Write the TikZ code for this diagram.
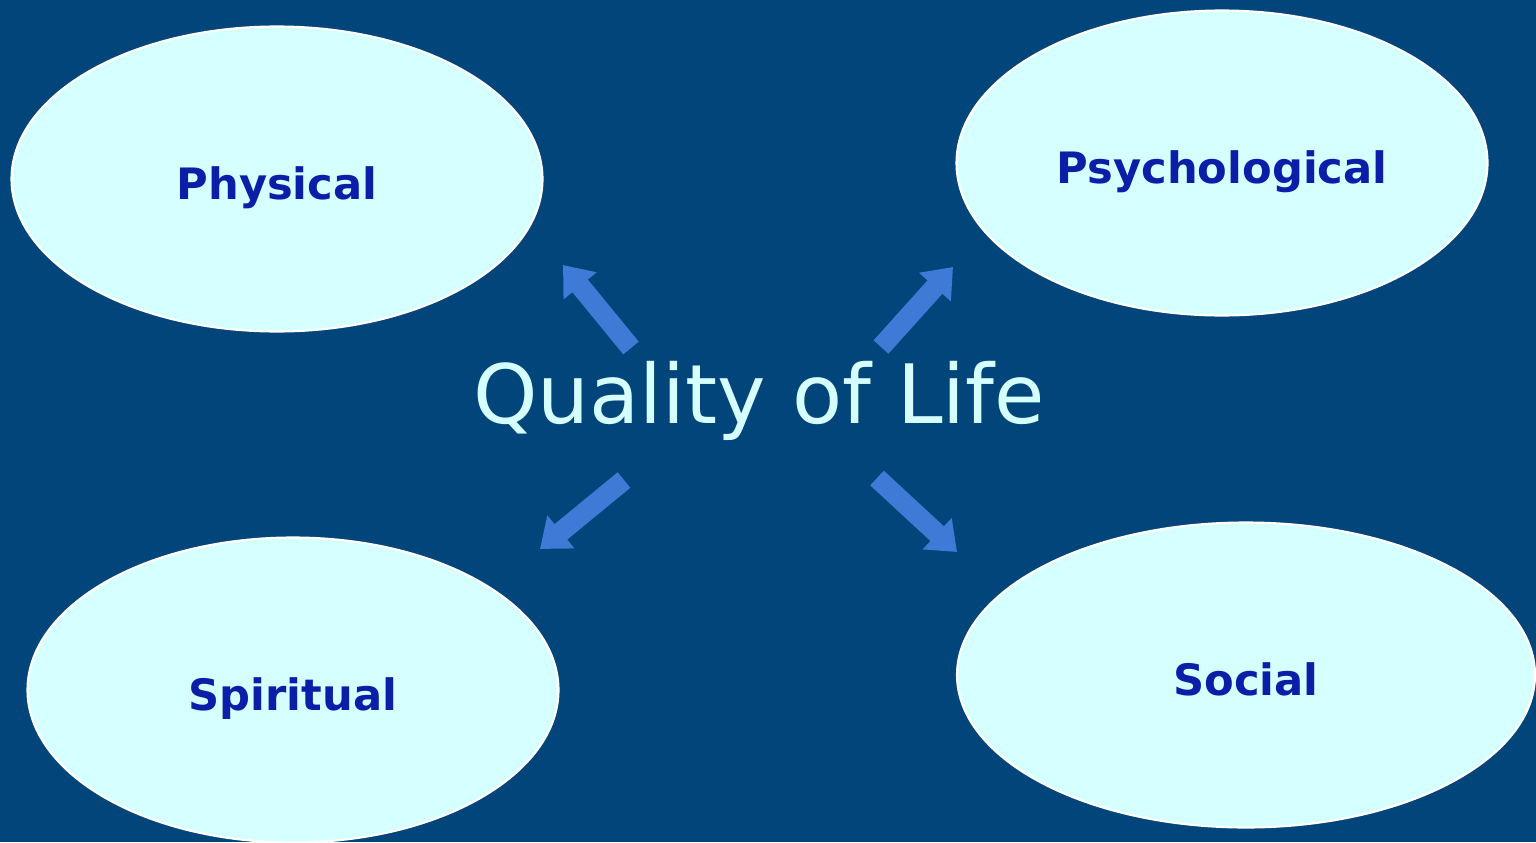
\documentclass[tikz,border=0pt]{standalone}
\usepackage{fontspec}
\setmainfont{DejaVu Sans}
\usetikzlibrary{arrows.meta, shapes.geometric}

\definecolor{slide}{HTML}{02457A}
\definecolor{cloud}{HTML}{D6FFFF}
\definecolor{ink}{HTML}{0A1EA8}
\definecolor{shaft}{HTML}{3F7AD6}

\begin{document}
\begin{tikzpicture}[
    facet/.style={ellipse, draw=white, line width=0.6pt, fill=cloud, text=ink,
      minimum width=5.31cm, minimum height=3.05cm, inner sep=0pt,
      text height=14.4pt, text depth=3pt,
      font=\fontsize{12.3}{15}\selectfont\bfseries},
    push/.style={draw=shaft, line width=0.2cm,
      -{Triangle[width=0.41cm, length=0.27cm]}}
  ]
    \useasboundingbox (0,0) rectangle (15.36,8.42);
    \fill[slide] (0,0) rectangle (15.36,8.42);
    \clip (0,0) rectangle (15.36,8.42);

    \node[facet] (phys) at (2.77,6.63) {Physical};
    \node[facet] (psych) at (12.22,6.79) {Psychological};
    \node[facet] (spirit) at (2.93,1.52) {Spiritual};
    \node[facet, minimum width=5.78cm] (social) at (12.46,1.67) {Social};

    \node[text=cloud, font=\fontsize{23.3}{28}\selectfont] (qol) at (7.59,4.41) {Quality of Life};

    % arrows out from the title
    \coordinate (ulfrom) at (6.31,4.94);
    \coordinate (ulto) at (5.63,5.77);
    \coordinate (urfrom) at (8.81,4.95);
    \coordinate (urto) at (9.53,5.75);
    \coordinate (llfrom) at (6.24,3.62);
    \coordinate (llto) at (5.40,2.93);
    \coordinate (lrfrom) at (8.77,3.64);
    \coordinate (lrto) at (9.57,2.90);

    \draw[push] (ulfrom) -- (ulto);
    \draw[push] (urfrom) -- (urto);
    \draw[push] (llfrom) -- (llto);
    \draw[push] (lrfrom) -- (lrto);
\end{tikzpicture}
\end{document}
